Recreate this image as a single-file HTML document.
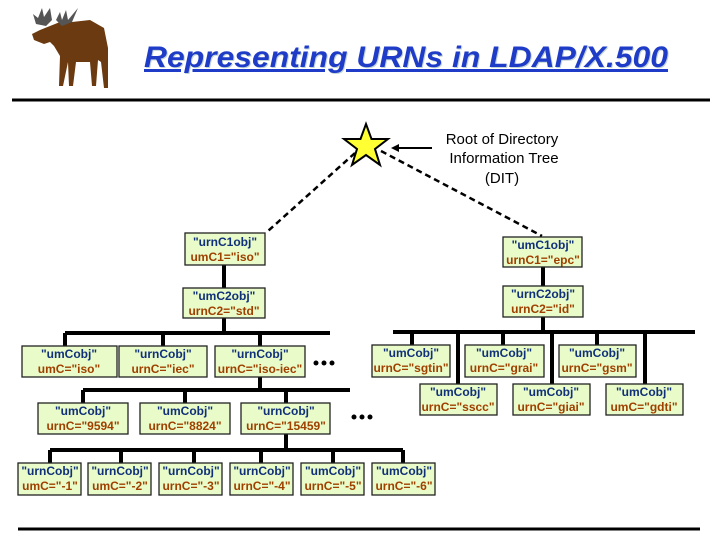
<!DOCTYPE html>
<html><head><style>
body{margin:0;background:#fff;width:720px;height:540px;overflow:hidden}
svg{display:block}
.b{fill:#e8fbc8;stroke:#222;stroke-width:1.3}
.t1{fill:#10307a;font:bold 12px "Liberation Sans",sans-serif;text-anchor:middle}
.t2{fill:#a04000;font:bold 12px "Liberation Sans",sans-serif;text-anchor:middle}
.l{stroke:#000;stroke-width:4;fill:none}
</style></head><body>
<svg width="720" height="540" viewBox="0 0 720 540">
<!-- moose -->
<g fill="#6b3a10">
<path d="M40 30 L50 26 L60 22 L72 22 L90 20 L104 28 L108 48 L108 88 L104 88 L101 62 L98 60 L96 86 L92 86 L90 62 L76 62 L73 86 L69 86 L68 62 L63 86 L59 86 L60 56 L54 46 L50 42 L44 44 L34 40 L32 34 Z"/>
</g>
<g fill="#555">
<path d="M33 14 L38 18 L42 8 L44 17 L50 8 L52 20 L46 26 L36 24 Z"/>
<path d="M56 20 L60 12 L62 20 L66 10 L68 20 L78 8 L72 22 L62 26 Z"/>
</g>
<!-- title -->
<text x="407" y="68" text-anchor="middle" font-family="Liberation Sans,sans-serif" font-size="30" font-weight="bold" font-style="italic" fill="#8aa" opacity="0.5" textLength="524" lengthAdjust="spacingAndGlyphs">Representing URNs in LDAP/X.500</text>
<text x="406" y="67" text-anchor="middle" font-family="Liberation Sans,sans-serif" font-size="30" font-weight="bold" font-style="italic" fill="#1f3cc8" text-decoration="underline" textLength="524" lengthAdjust="spacingAndGlyphs">Representing URNs in LDAP/X.500</text>
<line x1="12" y1="100" x2="710" y2="100" stroke="#000" stroke-width="3"/>
<line x1="18" y1="529" x2="700" y2="529" stroke="#000" stroke-width="3"/>
<!-- star -->
<polygon points="366,124 371.5,139 388,139 375,149 380,165 366,155 352,165 357,149 344,139 360.5,139" fill="#ffff33" stroke="#000" stroke-width="2"/>
<line x1="432" y1="148" x2="398" y2="148" stroke="#000" stroke-width="2"/>
<polygon points="391,148 399,144 399,152" fill="#000"/>
<g font-family="Liberation Sans,sans-serif" font-size="15" text-anchor="middle" fill="#000">
<text x="502" y="144">Root of Directory</text>
<text x="504" y="163">Information Tree</text>
<text x="502" y="183">(DIT)</text>
</g>
<line x1="355" y1="153" x2="268" y2="231" stroke="#000" stroke-width="2.5" stroke-dasharray="6,4"/>
<line x1="381" y1="151" x2="542" y2="236" stroke="#000" stroke-width="2.5" stroke-dasharray="6,4"/>
<!-- left tree lines -->
<path class="l" d="M224 265 V288 M224 318 V333 M65 333 H330 M65 333 V346 M163 333 V346 M260 333 V346 M260 377 V390 M83 390 H350 M83 390 V403 M185 390 V403 M286 390 V403 M286 434 V450 M50 450 H403 M50 450 V463 M121 450 V463 M194 450 V463 M261 450 V463 M333 450 V463 M403 450 V463"/>
<!-- right tree lines -->
<path class="l" d="M543 267 V286 M543 317 V332 M393 332 H695 M412 332 V345 M458 332 V384 M503 332 V345 M552 332 V384 M597 332 V345 M645 332 V384"/>
<!-- dots -->
<g fill="#000"><circle cx="316" cy="363" r="2.5"/><circle cx="324" cy="363" r="2.5"/><circle cx="332" cy="363" r="2.5"/>
<circle cx="354" cy="417" r="2.5"/><circle cx="362" cy="417" r="2.5"/><circle cx="370" cy="417" r="2.5"/></g>
<!-- boxes -->
<g>
<rect class="b" x="185" y="233" width="80" height="32"/><text class="t1" x="225" y="246">"urnC1obj"</text><text class="t2" x="225" y="261">umC1="iso"</text>
<rect class="b" x="183" y="288" width="82" height="30"/><text class="t1" x="224" y="300">"umC2obj"</text><text class="t2" x="224" y="315">urnC2="std"</text>
<rect class="b" x="22" y="346" width="95" height="31"/><text class="t1" x="69" y="358">"umCobj"</text><text class="t2" x="69" y="373">umC="iso"</text>
<rect class="b" x="119" y="346" width="88" height="31"/><text class="t1" x="163" y="358">"urnCobj"</text><text class="t2" x="163" y="373">urnC="iec"</text>
<rect class="b" x="215" y="346" width="90" height="31"/><text class="t1" x="260" y="358">"urnCobj"</text><text class="t2" x="260" y="373">urnC="iso-iec"</text>
<rect class="b" x="38" y="403" width="90" height="31"/><text class="t1" x="83" y="415">"umCobj"</text><text class="t2" x="83" y="430">urnC="9594"</text>
<rect class="b" x="140" y="403" width="90" height="31"/><text class="t1" x="185" y="415">"umCobj"</text><text class="t2" x="185" y="430">urnC="8824"</text>
<rect class="b" x="241" y="403" width="89" height="31"/><text class="t1" x="286" y="415">"urnCobj"</text><text class="t2" x="286" y="430">urnC="15459"</text>
<rect class="b" x="18" y="463" width="63" height="32"/><text class="t1" x="50" y="475">"urnCobj"</text><text class="t2" x="50" y="490">umC="-1"</text>
<rect class="b" x="88" y="463" width="63" height="32"/><text class="t1" x="120" y="475">"urnCobj"</text><text class="t2" x="120" y="490">umC="-2"</text>
<rect class="b" x="159" y="463" width="63" height="32"/><text class="t1" x="191" y="475">"urnCobj"</text><text class="t2" x="191" y="490">urnC="-3"</text>
<rect class="b" x="230" y="463" width="63" height="32"/><text class="t1" x="262" y="475">"urnCobj"</text><text class="t2" x="262" y="490">urnC="-4"</text>
<rect class="b" x="301" y="463" width="63" height="32"/><text class="t1" x="333" y="475">"umCobj"</text><text class="t2" x="333" y="490">urnC="-5"</text>
<rect class="b" x="372" y="463" width="63" height="32"/><text class="t1" x="404" y="475">"umCobj"</text><text class="t2" x="404" y="490">urnC="-6"</text>
<rect class="b" x="503" y="237" width="79" height="30"/><text class="t1" x="543" y="249">"umC1obj"</text><text class="t2" x="543" y="264">urnC1="epc"</text>
<rect class="b" x="503" y="286" width="80" height="31"/><text class="t1" x="543" y="298">"urnC2obj"</text><text class="t2" x="543" y="313">urnC2="id"</text>
<rect class="b" x="372" y="345" width="78" height="32"/><text class="t1" x="411" y="357">"umCobj"</text><text class="t2" x="411" y="372">urnC="sgtin"</text>
<rect class="b" x="465" y="345" width="79" height="32"/><text class="t1" x="504" y="357">"umCobj"</text><text class="t2" x="504" y="372">urnC="grai"</text>
<rect class="b" x="559" y="345" width="77" height="32"/><text class="t1" x="597" y="357">"umCobj"</text><text class="t2" x="597" y="372">urnC="gsm"</text>
<rect class="b" x="420" y="384" width="77" height="31"/><text class="t1" x="458" y="396">"umCobj"</text><text class="t2" x="458" y="411">urnC="sscc"</text>
<rect class="b" x="513" y="384" width="77" height="31"/><text class="t1" x="551" y="396">"umCobj"</text><text class="t2" x="551" y="411">urnC="giai"</text>
<rect class="b" x="606" y="384" width="77" height="31"/><text class="t1" x="644" y="396">"umCobj"</text><text class="t2" x="644" y="411">umC="gdti"</text>
</g>
</svg>
</body></html>
